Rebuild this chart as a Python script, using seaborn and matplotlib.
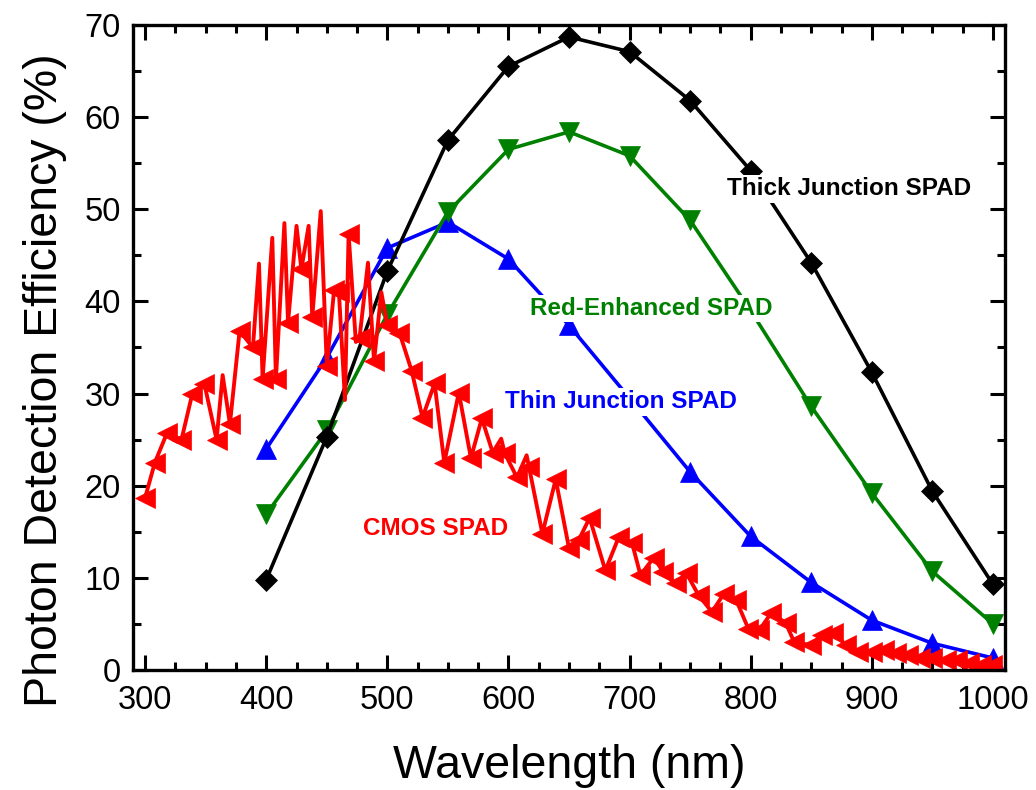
import matplotlib
matplotlib.use("Agg")
import matplotlib.pyplot as plt
import seaborn as sns
import pandas as pd
from matplotlib.ticker import MultipleLocator

# ---------------- data ----------------
wl = [400, 450, 500, 550, 600, 650, 700, 750, 800, 850, 900, 950, 1000]
thick_junction = [9.8, 25.3, 43.3, 57.5, 65.5, 68.7, 67.1, 61.8, 54.2, 44.2, 32.3, 19.4, 9.3]
red_enhanced = [16.9, 26.0, 38.6, 49.7, 56.5, 58.4, 55.8, 48.8, 39.0, 28.6, 19.2, 10.7, 5.0]
thin_junction = [24.0, 33.9, 45.8, 48.6, 44.6, 37.4, 29.5, 21.5, 14.5, 9.5, 5.4, 2.9, 1.3]

cmos_wl = [300, 308, 318, 330, 339, 349, 359, 364, 370, 378,
           389, 394, 397, 405, 408, 415, 418, 425, 429, 435,
           438, 445, 450, 456, 460, 465, 468, 474, 477, 484,
           489, 495, 500, 510, 520, 529, 539, 547, 559, 569,
           578, 587, 594, 597, 607, 615, 617, 628, 639, 650,
           658, 667, 680, 691, 702, 709, 720, 728, 738, 747,
           757, 768, 778, 788, 798, 807, 817, 829, 836, 850,
           859, 868, 879, 889, 900, 910, 920, 930, 940, 950,
           961, 970, 980, 990, 999]
cmos_pde = [18.7, 22.5, 25.7, 25.0, 30.0, 31.0, 25.0, 32.0, 26.7, 36.8,
            35.0, 44.1, 31.6, 46.9, 31.6, 48.5, 37.7, 48.2, 43.5, 48.2,
            38.3, 49.8, 33.0, 41.2, 41.0, 29.3, 47.3, 35.6, 36.0, 44.2,
            33.5, 41.0, 37.4, 36.6, 32.5, 27.4, 31.1, 22.5, 30.1, 23.0,
            27.3, 23.6, 25.1, 23.5, 20.9, 23.3, 22.0, 14.8, 20.7, 13.2,
            14.1, 16.5, 10.8, 14.4, 13.8, 10.3, 12.2, 10.6, 9.4, 10.5,
            8.1, 6.3, 8.3, 7.6, 4.5, 4.3, 6.2, 5.1, 3.0, 2.7,
            3.8, 4.0, 2.7, 2.0, 2.0, 2.2, 1.8, 1.6, 1.3, 1.3,
            1.1, 1.1, 0.8, 0.5, 0.5]
# points of the trace drawn without a symbol
cmos_unmarked = [7, 11, 13, 15, 17, 19, 21, 25, 27, 29, 31, 42, 45]

x_ticks = [300, 400, 500, 600, 700, 800, 900, 1000]
y_ticks = [0, 10, 20, 30, 40, 50, 60, 70]

# ---------------- style ----------------
sns.set_style("ticks")
plt.rcParams["font.family"] = ["Liberation Sans", "DejaVu Sans"]
for k in ["text.color", "axes.labelcolor", "xtick.color", "ytick.color", "axes.edgecolor"]:
    plt.rcParams[k] = "black"

fig = plt.figure(figsize=(10.36, 7.9), dpi=100)
ax = fig.add_axes([0.1284, 0.1519, 0.8417, 0.8165])

blue, green, black, red = "#0000FF", "#008000", "#000000", "#FF0000"

df = pd.DataFrame({"wl": wl, "thick": thick_junction,
                   "red": red_enhanced, "thin": thin_junction})
cm = pd.DataFrame({"wl": cmos_wl, "pde": cmos_pde})

lw = 2.6
sns.lineplot(data=df, x="wl", y="thin", ax=ax, color=blue, linewidth=lw,
             marker="^", markersize=14.5, markeredgecolor=blue, markeredgewidth=0.5, sort=False)
sns.lineplot(data=df, x="wl", y="red", ax=ax, color=green, linewidth=lw,
             marker="v", markersize=14.5, markeredgecolor=green, markeredgewidth=0.5, sort=False)
sns.lineplot(data=df, x="wl", y="thick", ax=ax, color=black, linewidth=lw,
             marker="D", markersize=11, markeredgecolor=black, markeredgewidth=0.5, sort=False)
marked = [i not in cmos_unmarked for i in range(len(cmos_wl))]
sns.lineplot(data=cm, x="wl", y="pde", ax=ax, color=red, linewidth=2.8,
             marker="<", markersize=14, markeredgecolor=red, markeredgewidth=0.5,
             markevery=marked, sort=False)

ax.set_xlim(290, 1010)
ax.set_ylim(0, 70)
ax.set_xticks(x_ticks)
ax.set_yticks(y_ticks)
ax.xaxis.set_minor_locator(MultipleLocator(25))
ax.yaxis.set_minor_locator(MultipleLocator(5))
ax.tick_params(which="both", direction="in", top=True, right=True,
               width=2.2, labelsize=23.5, color="black", labelcolor="black")
ax.tick_params(axis="x", which="both", pad=11)
ax.tick_params(axis="y", which="both", pad=9)
ax.tick_params(which="major", length=11)
ax.tick_params(which="minor", length=6)
for sp in ax.spines.values():
    sp.set_linewidth(2.4)
    sp.set_color("black")

ax.set_xlabel("Wavelength (nm)", fontsize=33.5, labelpad=20)
ax.set_ylabel("Photon Detection Efficiency (%)", fontsize=33.5, labelpad=12)
ax.yaxis.label.set_y(0.45)

box = dict(facecolor="white", edgecolor="none", pad=1.5)
fs = 17.5
ax.text(881, 52.2, "Thick Junction SPAD", color=black, fontsize=fs, fontweight="bold",
        ha="center", va="center", bbox=box)
ax.text(718, 39.2, "Red-Enhanced SPAD", color=green, fontsize=fs, fontweight="bold",
        ha="center", va="center", bbox=box)
ax.text(693, 29.1, "Thin Junction SPAD", color=blue, fontsize=fs, fontweight="bold",
        ha="center", va="center", bbox=box)
ax.text(540, 15.4, "CMOS SPAD", color=red, fontsize=fs, fontweight="bold",
        ha="center", va="center", bbox=box)

fig.savefig("out.png", dpi=100)
